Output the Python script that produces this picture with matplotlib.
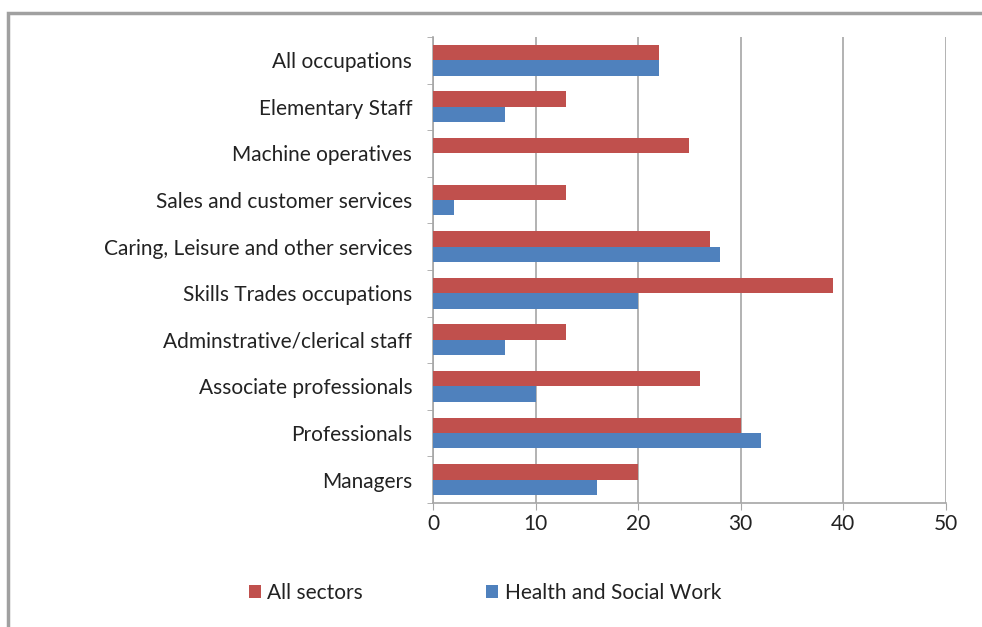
import numpy as np
import matplotlib.pyplot as plt
from matplotlib.patches import Rectangle

plt.rcParams['font.family'] = ['Lato', 'DejaVu Sans']

# Categories listed from bottom to top
categories = ["Managers", "Professionals", "Associate professionals",
              "Adminstrative/clerical staff", "Skills Trades occupations",
              "Caring, Leisure and other services", "Sales and customer services",
              "Machine operatives", "Elementary Staff", "All occupations"]
all_sectors = [20, 30, 26, 13, 39, 27, 13, 25, 13, 22]
health_social = [16, 32, 10, 7, 20, 28, 2, 0, 7, 22]
xticks = [0, 10, 20, 30, 40, 50]

red = '#C0504D'
blue = '#4F81BD'
grid_c = '#A6A6A6'
fs = 15

fig = plt.figure(figsize=(9.82, 6.27), dpi=100)
# outer chart frame (only top and left edges visible)
fig.patches.append(Rectangle((0.008, -0.05), 1.1, 1.03, transform=fig.transFigure,
                             fill=False, edgecolor='#A0A0A0', linewidth=2.5))

ax = fig.add_axes([0.441, 0.198, 0.522, 0.743])

y = np.arange(len(categories))
h = 0.33
ax.barh(y + h / 2, all_sectors, height=h, color=red, label='All sectors', zorder=3)
ax.barh(y - h / 2, health_social, height=h, color=blue, label='Health and Social Work', zorder=3)

ax.set_xlim(0, 50)
ax.set_ylim(-0.5, len(categories) - 0.5)
ax.set_xticks(xticks)
ax.set_yticks(y)
ax.set_yticklabels(categories)
ax.set_yticks(np.arange(-0.5, len(categories), 1), minor=True)
ax.tick_params(axis='y', which='major', length=0, pad=15, labelsize=fs, labelcolor='#222222')
ax.tick_params(axis='y', which='minor', length=4, color=grid_c)
ax.tick_params(axis='x', length=5, color=grid_c, labelsize=fs, labelcolor='#222222', pad=3)

ax.xaxis.grid(True, color=grid_c, linewidth=1.2, zorder=0)
for s in ['top', 'right']:
    ax.spines[s].set_visible(False)
for s in ['left', 'bottom']:
    ax.spines[s].set_color(grid_c)
    ax.spines[s].set_linewidth(1.2)

fig.legend(loc='center left', bbox_to_anchor=(0.234, 0.054), ncol=2, frameon=False,
           handlelength=0.6, handleheight=0.6, handletextpad=0.3, columnspacing=5.9,
           fontsize=fs, labelcolor='#222222')

fig.savefig('out.png', dpi=100)
